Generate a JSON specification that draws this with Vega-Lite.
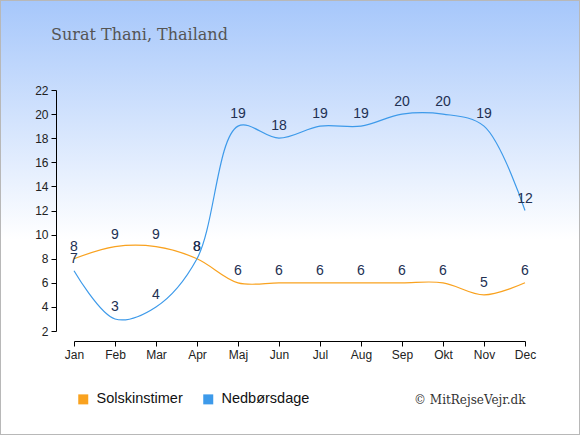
{
  "$schema": "https://vega.github.io/schema/vega-lite/v6.json",
  "width": 580,
  "height": 435,
  "padding": 0,
  "autosize": {"type": "none"},
  "view": {
    "fill": {"gradient": "linear", "x1": 0, "y1": 0, "x2": 0, "y2": 1,
      "stops": [{"offset": 0, "color": "#a6c7fb"}, {"offset": 0.55, "color": "#ffffff"}, {"offset": 1, "color": "#ffffff"}]},
    "stroke": "#b8b8b8",
    "strokeWidth": 2
  },
  "title": {
    "text": "Surat Thani, Thailand",
    "anchor": "start",
    "frame": "group",
    "orient": "top",
    "offset": 0,
    "dx": 51,
    "dy": 56,
    "baseline": "alphabetic",
    "font": "DejaVu Serif",
    "fontSize": 16,
    "fontWeight": "normal",
    "color": "#555555"
  },
  "data": {
    "values": [
      {"month": "Jan", "series": "Solskinstimer", "value": 8},
      {"month": "Feb", "series": "Solskinstimer", "value": 9},
      {"month": "Mar", "series": "Solskinstimer", "value": 9},
      {"month": "Apr", "series": "Solskinstimer", "value": 8},
      {"month": "Maj", "series": "Solskinstimer", "value": 6},
      {"month": "Jun", "series": "Solskinstimer", "value": 6},
      {"month": "Jul", "series": "Solskinstimer", "value": 6},
      {"month": "Aug", "series": "Solskinstimer", "value": 6},
      {"month": "Sep", "series": "Solskinstimer", "value": 6},
      {"month": "Okt", "series": "Solskinstimer", "value": 6},
      {"month": "Nov", "series": "Solskinstimer", "value": 5},
      {"month": "Dec", "series": "Solskinstimer", "value": 6},
      {"month": "Jan", "series": "Nedbørsdage", "value": 7},
      {"month": "Feb", "series": "Nedbørsdage", "value": 3},
      {"month": "Mar", "series": "Nedbørsdage", "value": 4},
      {"month": "Apr", "series": "Nedbørsdage", "value": 8},
      {"month": "Maj", "series": "Nedbørsdage", "value": 19},
      {"month": "Jun", "series": "Nedbørsdage", "value": 18},
      {"month": "Jul", "series": "Nedbørsdage", "value": 19},
      {"month": "Aug", "series": "Nedbørsdage", "value": 19},
      {"month": "Sep", "series": "Nedbørsdage", "value": 20},
      {"month": "Okt", "series": "Nedbørsdage", "value": 20},
      {"month": "Nov", "series": "Nedbørsdage", "value": 19},
      {"month": "Dec", "series": "Nedbørsdage", "value": 12}
    ]
  },
  "encoding": {
    "x": {
      "field": "month", "type": "ordinal",
      "sort": ["Jan","Feb","Mar","Apr","Maj","Jun","Jul","Aug","Sep","Okt","Nov","Dec"],
      "scale": {"type": "point", "range": [74, 525], "padding": 0},
      "axis": {
        "orient": "bottom", "offset": -94, "labelAngle": 0,
        "domainColor": "#000000", "tickColor": "#000000", "tickSize": 5,
        "labelFont": "Liberation Sans", "labelFontSize": 12, "labelColor": "#222222", "labelPadding": 3,
        "title": "© MitRejseVejr.dk", "titleX": 525, "titleY": 62, "titleAlign": "right",
        "titleBaseline": "alphabetic", "titleAnchor": null,
        "titleFont": "DejaVu Serif", "titleFontSize": 12, "titleFontWeight": "normal", "titleColor": "#333333"
      }
    },
    "y": {
      "field": "value", "type": "quantitative",
      "scale": {"domain": [2, 22], "range": [331, 90], "nice": false, "zero": false},
      "axis": {
        "orient": "left", "offset": -56, "values": [2,4,6,8,10,12,14,16,18,20,22],
        "grid": false, "title": null,
        "domainColor": "#000000", "tickColor": "#000000", "tickSize": 5,
        "labelFont": "Liberation Sans", "labelFontSize": 12, "labelColor": "#222222", "labelPadding": 3
      }
    },
    "color": {
      "field": "series", "type": "nominal",
      "scale": {"domain": ["Solskinstimer", "Nedbørsdage"], "range": ["#f9a21f", "#3d9aea"]},
      "legend": {
        "orient": "none", "legendX": 76, "legendY": 392, "direction": "horizontal", "title": null,
        "symbolType": "square", "symbolSize": 100,
        "labelFont": "Liberation Sans", "labelFontSize": 14.5, "labelColor": "#111111",
        "columnPadding": 18, "labelOffset": 6,
        "encode": {"symbols": {"update": {"fill": {"scale": "color", "field": "value"}, "strokeWidth": {"value": 0}, "opacity": {"value": 1}}}}
      }
    }
  },
  "layer": [
    {"mark": {"type": "line", "interpolate": "catmull-rom", "strokeWidth": 1.2}},
    {"mark": {"type": "text", "dy": -12, "fontSize": 14, "font": "Liberation Sans", "color": "#223052"},
     "encoding": {"text": {"field": "value", "type": "quantitative"}, "color": {"value": "#223052"}}}
  ]
}
